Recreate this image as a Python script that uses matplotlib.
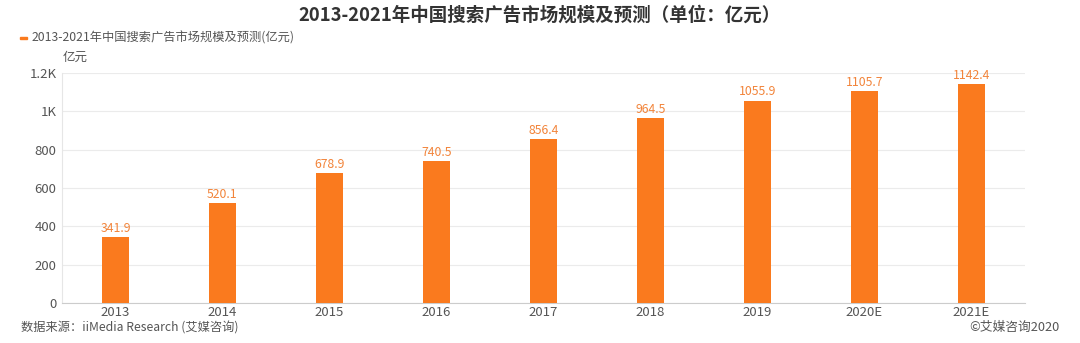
import matplotlib
matplotlib.use("Agg")
import matplotlib.pyplot as plt

plt.rcParams['font.family'] = ['Noto Sans CJK SC', 'DejaVu Sans']

years = ['2013', '2014', '2015', '2016', '2017', '2018', '2019', '2020E', '2021E']
market_size = [341.9, 520.1, 678.9, 740.5, 856.4, 964.5, 1055.9, 1105.7, 1142.4]
y_ticks = [0, 200, 400, 600, 800, 1000, 1200]
y_tick_labels = ['0', '200', '400', '600', '800', '1K', '1.2K']

bar_color = '#FA7A1E'
label_color = '#F2843A'
text_color = '#555555'

fig = plt.figure(figsize=(10.8, 3.43), dpi=100)
ax = fig.add_axes([0.0574, 0.1166, 0.8916, 0.6706])

x = range(len(years))
ax.bar(x, market_size, width=0.25, color=bar_color, zorder=3)
for xi, v in zip(x, market_size):
    ax.text(xi, v + 12, f'{v:.1f}', ha='center', va='bottom',
            fontsize=8.8, color=label_color, zorder=4)

ax.set_xlim(-0.5, len(years) - 0.5)
ax.set_ylim(0, 1200)
ax.set_yticks(y_ticks)
ax.set_yticklabels(y_tick_labels)
ax.set_xticks(list(x))
ax.set_xticklabels(years)
ax.tick_params(axis='both', length=0, labelsize=9.5, colors=text_color)
ax.tick_params(axis='y', pad=4)
ax.tick_params(axis='x', pad=2)
ax.grid(axis='y', color='#EBEBEB', linewidth=0.8, zorder=0)
for side in ('top', 'right'):
    ax.spines[side].set_visible(False)
ax.spines['left'].set_color('#E6E6E6')
ax.spines['bottom'].set_color('#CCCCCC')

fig.text(0.5, 0.955, '2013-2021年中国搜索广告市场规模及预测（单位：亿元）',
         ha='center', va='center', fontsize=13.3, fontweight='bold', color='#333333')
fig.patches.append(plt.Rectangle((0.0185, 0.885), 0.0065, 0.008,
                                 transform=fig.transFigure, color=bar_color))
fig.text(0.029, 0.889, '2013-2021年中国搜索广告市场规模及预测(亿元)',
         ha='left', va='center', fontsize=8.8, color=text_color)
fig.text(0.058, 0.832, '亿元', ha='left', va='center', fontsize=9, color=text_color)
fig.text(0.019, 0.045, '数据来源：iiMedia Research (艾媒咨询)', ha='left', va='center',
         fontsize=8.8, color=text_color)
fig.text(0.981, 0.045, '©艾媒咨询2020', ha='right', va='center',
         fontsize=9.2, color=text_color)

fig.savefig('out.png', dpi=100)
